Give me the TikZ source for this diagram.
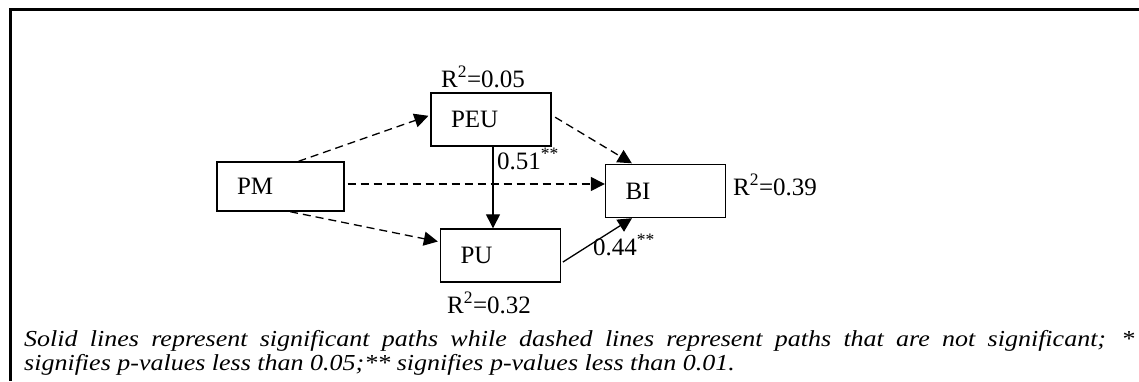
\documentclass[tikz,border=0pt]{standalone}
\usepackage{fontspec}
\setmainfont{Liberation Serif}
\usetikzlibrary{arrows.meta,calc}
\newcommand{\lblfont}{\fontsize{25}{30}\selectfont}
\newcommand{\capfont}{\fontsize{26}{30}\selectfont\itshape}
\newcommand{\shorttext}[1]{\scalebox{1}[0.88]{#1}}
\begin{document}
\begin{tikzpicture}[x=1pt,y=-1pt,
  box/.style={draw, line width=1.4pt, rectangle, minimum height=53pt,
    text width=80pt, inner xsep=20pt, inner ysep=0pt, align=left, font=\lblfont},
  lbl/.style={anchor=base west, inner sep=0pt, font=\lblfont},
  sig/.style={-{Triangle[length=14pt,width=14pt]}, line width=1.3pt},
  ns/.style={sig, dash pattern=on 8pt off 5pt},
  note/.style={anchor=base west, inner sep=0pt, font=\capfont}]
\useasboundingbox (0,0) rectangle (1139,381);

% open frame: top and left edges only
\draw[line width=2.5pt] (1139,9.5) -- (10.5,9.5) -- (10.5,381);

% constructs
\node[box, text width=87pt, minimum height=49pt] (pm) at (280.5,186.5) {PM};
\node[box] (peu) at (491,119.5) {PEU};
\node[box] (bi)  at (665.5,191) {BI};
\node[box] (pu)  at (500.5,255.5) {PU};

% explained variance
\node[lbl] (r2peu) at (441,87)  {R\textsuperscript{2}=0.05};
\node[lbl] (r2bi)  at (733,195) {R\textsuperscript{2}=0.39};
\node[lbl] (r2pu)  at (447,313) {R\textsuperscript{2}=0.32};

% path coefficients
\node[lbl] (c51) at (497,169) {0.51\textsuperscript{**}};
\node[lbl] (c44) at (593,255) {0.44\textsuperscript{**}};

% non-significant paths
\draw[ns, shorten >=2pt] ($(pm.north west)!0.64!(pm.north east)$)
  -- ($(peu.north west)!0.42!(peu.south west)$);
\draw[ns, shorten <=4pt, shorten >=1pt] ($(peu.north east)!0.42!(peu.south east)$)
  -- ($(bi.north west)!0.23!(bi.north east)$);
\draw[ns, shorten <=3pt] (pm.east |- 0,184) -- (bi.west |- 0,184);
\draw[ns, shorten >=2pt] ($(pm.south west)!0.575!(pm.south east)$)
  -- ($(pu.north west)!0.25!(pu.south west)$);

% significant paths
\coordinate (vx) at (493,0);
\draw[sig] (peu.south -| vx) -- (pu.north -| vx);
\draw[sig, shorten <=2pt] ($(pu.north east)!0.64!(pu.south east)$)
  -- ($(bi.south west)!0.224!(bi.south east)$);

% legend
\node[note] (leg1) at (24,346) {\shorttext{\makebox[1110pt][s]{Solid lines represent significant paths while dashed lines represent paths that are not significant; *}}};
\node[note] (leg2) at (24,370) {\shorttext{signifies p-values less than 0.05;** signifies p-values less than 0.01.}};
\end{tikzpicture}
\end{document}
